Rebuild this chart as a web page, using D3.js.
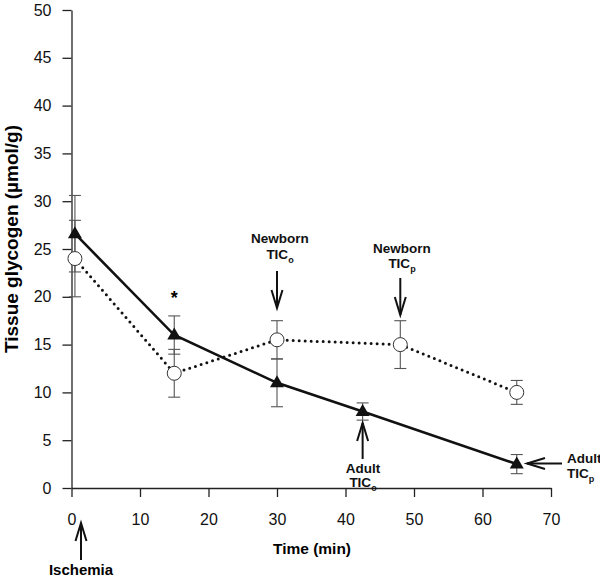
<!DOCTYPE html>
<html><head><meta charset="utf-8">
<script src="https://cdn.jsdelivr.net/npm/d3@7"></script>
<style>body{margin:0;background:#fff}svg{display:block}text{font-family:"Liberation Sans",Arial,Helvetica,sans-serif}</style>
</head><body>
<svg id="c" width="600" height="580"></svg>
<script>
// Data
const adultTime = [0.5, 15, 30, 42.5, 65];
const adultGlycogen = [26.6, 16, 11, 8, 2.5];
const adultErr = [4, 2, 2.5, 0.9, 1];
const newbornTime = [0.5, 15, 30, 48, 65];
const newbornGlycogen = [24, 12, 15.5, 15, 10];
const newbornErr = [4, 2.5, 2, 2.5, 1.25];
const xTicks = [0, 10, 20, 30, 40, 50, 60, 70];
const yTicks = [0, 5, 10, 15, 20, 25, 30, 35, 40, 45, 50];

const svg = d3.select("#c");
const x = d3.scaleLinear().domain([0, 70]).range([71.5, 551]);
const y = d3.scaleLinear().domain([0, 50]).range([488, 10]);

const axisColor = "#222";
const gx = svg.append("g").attr("transform", `translate(0,${y(0)})`)
  .call(d3.axisBottom(x).tickValues(xTicks).tickSize(9).tickSizeOuter(0).tickPadding(17));
const gy = svg.append("g").attr("transform", `translate(${x(0)},0)`)
  .call(d3.axisLeft(y).tickValues(yTicks).tickSize(9).tickSizeOuter(0).tickPadding(11));
[gx, gy].forEach(g => {
  g.select(".domain").attr("stroke", axisColor).attr("stroke-width", 1.3);
  g.selectAll(".tick line").attr("stroke", axisColor).attr("stroke-width", 1.3);
  g.selectAll(".tick text").attr("font-size", 16).attr("fill", "#111")
    .attr("font-family", '"Liberation Sans",Arial,sans-serif');
});

// Axis titles
svg.append("text").attr("x", 312).attr("y", 554).attr("text-anchor", "middle")
  .attr("font-size", 15.5).attr("font-weight", "bold").text("Time (min)");
svg.append("text").attr("transform", "translate(18,239) rotate(-90)").attr("text-anchor", "middle")
  .attr("font-size", 19).attr("font-weight", "bold").text("Tissue glycogen (µmol/g)");

const adult = adultTime.map((t, i) => ({t, v: adultGlycogen[i], e: adultErr[i]}));
const newborn = newbornTime.map((t, i) => ({t, v: newbornGlycogen[i], e: newbornErr[i]}));

// Error bars
function errBars(data) {
  const g = svg.append("g").attr("stroke", "#555").attr("stroke-width", 1.1).attr("fill", "none");
  data.forEach(d => {
    const cx = x(d.t), y1 = y(d.v + d.e), y2 = y(d.v - d.e);
    g.append("line").attr("x1", cx).attr("x2", cx).attr("y1", y1).attr("y2", y2);
    g.append("line").attr("x1", cx - 6).attr("x2", cx + 6).attr("y1", y1).attr("y2", y1);
    g.append("line").attr("x1", cx - 6).attr("x2", cx + 6).attr("y1", y2).attr("y2", y2);
  });
}
errBars(newborn);
errBars(adult);

const line = d3.line().x(d => x(d.t)).y(d => y(d.v));
svg.append("path").datum(newborn).attr("d", line).attr("fill", "none").attr("stroke", "#111")
  .attr("stroke-width", 3).attr("stroke-linecap", "round").attr("stroke-dasharray", "0,6");
svg.append("path").datum(adult).attr("d", line).attr("fill", "none").attr("stroke", "#111")
  .attr("stroke-width", 2.6);

// markers
svg.append("g").selectAll("circle").data(newborn).join("circle")
  .attr("cx", d => x(d.t)).attr("cy", d => y(d.v)).attr("r", 7)
  .attr("fill", "#fff").attr("stroke", "#333").attr("stroke-width", 1);
svg.append("g").selectAll("path").data(adult).join("path")
  .attr("transform", d => `translate(${x(d.t)},${y(d.v)})`)
  .attr("d", "M0,-7.5L7,4.5L-7,4.5Z").attr("fill", "#111");

// asterisk
svg.append("text").attr("x", x(15)).attr("y", 304).attr("text-anchor", "middle")
  .attr("font-size", 18).attr("font-weight", "bold").text("*");

// arrows
function arrow(x1, y1, x2, y2) {
  const ang = Math.atan2(y2 - y1, x2 - x1), L = 18, W = 5.5;
  const bx = x2 - L * Math.cos(ang), by = y2 - L * Math.sin(ang);
  const px = -Math.sin(ang) * W, py = Math.cos(ang) * W;
  const g = svg.append("g").attr("stroke", "#111").attr("stroke-width", 2).attr("fill", "none");
  g.append("line").attr("x1", x1).attr("y1", y1).attr("x2", x2).attr("y2", y2);
  g.append("path").attr("d", `M${bx + px},${by + py}L${x2},${y2}L${bx - px},${by - py}`);
}
function label(cx, yb, sub, anchor) {
  const g = svg.append("g").attr("font-weight", "bold").attr("font-size", 13.5).attr("fill", "#111");
  g.append("text").attr("x", cx).attr("y", yb[0]).attr("text-anchor", anchor).text(sub[0]);
  const t = g.append("text").attr("x", cx).attr("y", yb[1]).attr("text-anchor", anchor);
  t.append("tspan").text("TIC");
  t.append("tspan").attr("font-size", 9).attr("dy", 3.5).text(sub[1]);
}
label(280, [243, 259], ["Newborn", "o"], "middle");
arrow(x(30), 271, x(30), 308);
label(402, [253, 268], ["Newborn", "p"], "middle");
arrow(x(48), 278, x(48), 315);
label(363, [472.5, 487], ["Adult", "o"], "middle");
arrow(x(42.5), 459, x(42.5), 423);
label(567, [463, 478], ["Adult", "p"], "start");
arrow(562, 463.5, 527, 463.5);
svg.append("text").attr("x", 81).attr("y", 575).attr("text-anchor", "middle")
  .attr("font-size", 15).attr("font-weight", "bold").text("Ischemia");
arrow(81, 560, 81, 523);
</script>
</body></html>
